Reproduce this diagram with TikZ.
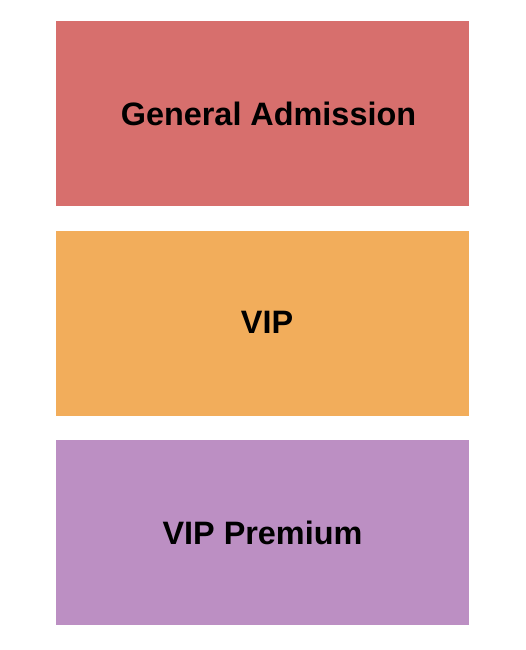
\documentclass[tikz,border=0pt]{standalone}
\usepackage{fontspec}
\setmainfont{Liberation Sans}
\definecolor{gacol}{HTML}{D76F6D}
\definecolor{vipcol}{HTML}{F2AD5B}
\definecolor{premcol}{HTML}{BC8FC3}
\begin{document}
\begin{tikzpicture}[x=1pt,y=1pt,
  section/.style={draw=none,inner sep=0pt,outer sep=0pt,minimum width=413pt,minimum height=185pt},
  sectionlabel/.style={inner sep=0pt,anchor=base,font=\fontsize{32.4}{36}\selectfont\bfseries,text=black}]
\useasboundingbox (0,0) rectangle (525,650);
\node[section,fill=gacol] (ga) at (262.5,536.5) {};
\node[section,fill=vipcol] (vip) at (262.5,326.5) {};
\node[section,fill=premcol] (prem) at (262.5,117.5) {};
\node[sectionlabel] (galabel) at ([xshift=6pt]ga.center |- 0,524) {General Admission};
\node[sectionlabel] (viplabel) at ([xshift=4.5pt]vip.center |- 0,316) {VIP};
\node[sectionlabel] (premlabel) at ([xshift=0pt]prem.center |- 0,105) {VIP Premium};
\end{tikzpicture}
\end{document}
